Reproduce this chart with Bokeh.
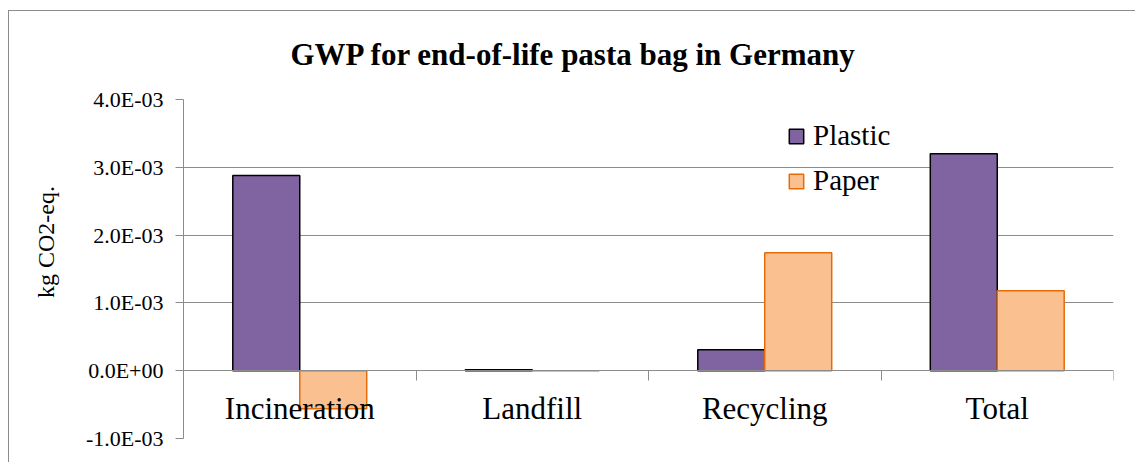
from bokeh.plotting import figure
from bokeh.models import (ColumnDataSource, Range1d, FixedTicker, Legend, LegendItem)
from bokeh.transform import dodge
from bokeh.core.properties import value
from bokeh.embed import file_html
from bokeh.resources import INLINE

# ---- data ----
categories = ["Incineration", "Landfill", "Recycling", "Total"]
plastic = [2.88e-3, 1.5e-5, 0.31e-3, 3.20e-3]
paper = [-0.56e-3, 0.0, 1.74e-3, 1.18e-3]
ytick_values = [-1e-3, 0.0, 1e-3, 2e-3, 3e-3, 4e-3]
ytick_labels = ["-1.0E-03", "0.0E+00", "1.0E-03", "2.0E-03", "3.0E-03", "4.0E-03"]
title_text = "GWP for end-of-life pasta bag in Germany"
y_label = "kg CO2-eq."

FONT = "Liberation Serif"
GRID = "#8c8c8c"

n = len(categories)
src = ColumnDataSource(dict(category=categories, pos=[i + 0.5 for i in range(n)],
                            plastic=plastic, paper=paper, zero=[0.0] * n))

p = figure(width=1127, height=452, x_range=Range1d(0, n),
           y_range=Range1d(ytick_values[0], ytick_values[-1]),
           output_backend="svg", toolbar_location=None,
           min_border_left=174, min_border_right=23, min_border_top=88, min_border_bottom=25)
p.styles = {"border-left": "1px solid #8c8c8c", "border-top": "1px solid #8c8c8c",
            "margin-top": "10px", "margin-left": "8px"}
p.outline_line_color = None
p.background_fill_color = "white"
p.border_fill_color = "white"

# title
p.title.text = title_text
p.title.text_font = FONT
p.title.text_font_size = "31px"
p.title.text_font_style = "bold"
p.title.text_color = "black"
p.title.align = "left"
p.title.vertical_align = "top"
p.title.offset = 107
p.title.standoff = 51

# bars
r1 = p.vbar(x=dodge("pos", -0.144), top="plastic", bottom="zero",
            width=0.288, source=src, fill_color="#8064A2", line_color="black", line_width=1.5)
r2 = p.vbar(x=dodge("pos", 0.144), top="paper", bottom="zero",
            width=0.288, source=src, fill_color="#FAC090", line_color="#E46C0A", line_width=1.5)

# y axis
ya = p.yaxis[0]
ya.ticker = FixedTicker(ticks=ytick_values)
ya.major_label_overrides = {v: l for v, l in zip(ytick_values, ytick_labels)}
ya.major_label_text_font = FONT
ya.major_label_text_font_size = "22px"
ya.major_label_text_color = "black"
ya.major_label_standoff = 12
ya.major_tick_in = 0
ya.major_tick_out = 8
ya.minor_tick_line_color = None
ya.axis_line_color = GRID
ya.major_tick_line_color = GRID
ya.axis_label = "\u00a0" * 9 + y_label
ya.axis_label_text_font = FONT
ya.axis_label_text_font_size = "24px"
ya.axis_label_text_font_style = "normal"
ya.axis_label_text_color = "black"
ya.axis_label_standoff = 24

p.ygrid.ticker = FixedTicker(ticks=ytick_values)
p.ygrid.grid_line_color = GRID
p.ygrid.grid_line_width = 1
p.xgrid.grid_line_color = None

# x axis at zero with tick marks at category boundaries
xa = p.xaxis[0]
xa.ticker = FixedTicker(ticks=list(range(n + 1)))
xa.fixed_location = 0
xa.major_label_overrides = {i: "" for i in range(n + 1)}
xa.major_label_text_font_size = "1px"
xa.major_tick_in = 0
xa.major_tick_out = 10
xa.minor_tick_line_color = None
xa.axis_line_color = GRID
xa.major_tick_line_color = GRID

# category labels below the zero line
p.text(x="pos", y="zero", text="category", source=src, text_align="center",
       text_baseline="top", y_offset=20, text_font=value(FONT), text_font_size="31px",
       text_color="black")

# legend
legend = Legend(items=[LegendItem(label="Plastic", renderers=[r1]),
                       LegendItem(label="Paper", renderers=[r2])],
                location=(604, 241), orientation="vertical")
legend.label_text_font = FONT
legend.label_text_font_size = "29px"
legend.label_text_color = "black"
legend.glyph_width = 18
legend.glyph_height = 18
legend.label_standoff = 8
legend.spacing = 12
legend.padding = 0
legend.margin = 0
legend.border_line_color = None
legend.background_fill_alpha = 0
p.add_layout(legend)

open("out.html", "w").write(file_html(p, INLINE))
